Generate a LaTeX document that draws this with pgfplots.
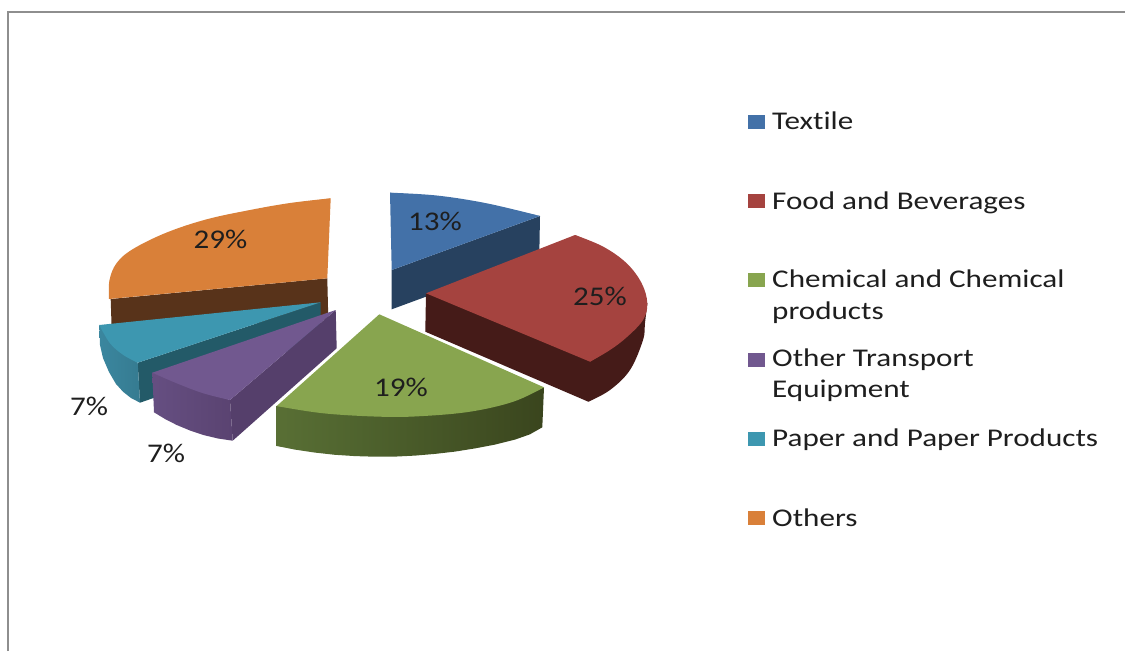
\documentclass[border=0pt]{standalone}
\usepackage{pgfplots}
\pgfplotsset{compat=1.18}
\usepackage{fontspec}
\setmainfont[Ligatures=NoCommon]{Carlito}
\definecolor{txt}{HTML}{1E1E1E}
\definecolor{frame}{HTML}{8E8E8E}
\definecolor{blueT}{HTML}{4371A8}\definecolor{blueS}{HTML}{27415F}
\definecolor{redT}{HTML}{A5433F}\definecolor{redS}{HTML}{451B18}
\definecolor{greenT}{HTML}{88A54F}
\definecolor{purpleT}{HTML}{71588F}\definecolor{purpleS}{HTML}{553F6B}
\definecolor{tealT}{HTML}{3D97B0}\definecolor{tealS}{HTML}{235A68}
\definecolor{orangeT}{HTML}{D98039}\definecolor{orangeS}{HTML}{58331A}
\pgfdeclarehorizontalshading{greenrim}{100bp}{
  rgb(0bp)=(0.41,0.51,0.25);
  rgb(40bp)=(0.31,0.39,0.18);
  rgb(78bp)=(0.22,0.26,0.11);
  rgb(100bp)=(0.23,0.28,0.12)}
\pgfdeclarehorizontalshading{tealrim}{100bp}{
  rgb(0bp)=(0.24,0.55,0.65);
  rgb(100bp)=(0.20,0.46,0.54)}
\pgfdeclarehorizontalshading{purplerim}{100bp}{
  rgb(0bp)=(0.42,0.33,0.54);
  rgb(100bp)=(0.33,0.24,0.41)}
\pgfplotsset{
  flat/.style={draw=none,fill=#1},
  arc/.style={smooth,tension=0.6,draw=none,fill=#1},
  rimflat/.style={draw=none,shading=#1}}
\newcommand{\pct}[3]{\node[text=txt] at (axis cs:#1,#2) {\fontsize{27}{27}\selectfont\scalebox{1.15}[1]{#3}};}
\newcommand{\leg}[2]{\node[text=txt,anchor=base west,inner sep=0pt] at (axis cs:772,#1) {\fontsize{25.5}{25.5}\selectfont\scalebox{1.22}[1]{#2}};}
\begin{document}
\begin{tikzpicture}
\begin{axis}[scale only axis,width=1125pt,height=651pt,xmin=0,xmax=1125,ymin=0,ymax=651,
  y dir=reverse,hide axis,clip=true]
% full page extent
\addplot[draw=none] coordinates {(0,0)(1125,651)};
% page frame
\addplot[draw=frame,line width=2.2pt] coordinates {(8,651)(8,12)(1125,12)};
% Textile
\addplot[flat=blueS] coordinates {(391.7,270)(540,216)(539.3,255)(391.7,309.3)};
\addplot[arc=blueT] coordinates {(390,192.7)(436.7,195.5)(486.7,203.3)(540,216)};
\addplot[flat=blueT] coordinates {(391.7,270)(390,192.7)(436.7,196.5)(486.7,204.3)(540,216)};
% Others
\addplot[flat=orangeS] coordinates {(110.7,299)(327.3,278.3)(328.3,320)(111.7,330)};
\addplot[arc=orangeT] coordinates {(330.7,198.3)(290,203)(250,210)(206.7,219.3)(166.7,232.5)(133,249)(116.7,263)(109.5,280)(109,299)};
\addplot[flat=orangeT] coordinates {(327.3,278.3)(330.7,198.3)(290,204)(250,211)(206.7,220.3)(166.7,233.5)(134,250)(117.7,264)(110.5,280)(109,299)};
% Paper and Paper Products
\addplot[flat=tealS] coordinates {(137.7,362.7)(320.7,302.3)(320.7,340)(140,402.7)};
\addplot[rimflat=tealrim] coordinates {(99.3,325)(137.7,362.7)(140,402.7)(131,398)(123.3,392)(116,384)(109,372)(103,358)(100,345)};
\addplot[arc=tealT] coordinates {(99.3,325)(110,343.3)(123.3,355)(137.7,362.7)};
\addplot[flat=tealT] coordinates {(320.7,302.3)(99.3,325)(110.7,342.7)(123.8,354.3)(137.7,362.7)};
% Other Transport Equipment
\addplot[flat=purpleS] coordinates {(230,400)(335.7,310)(336.7,348.3)(232.7,440.7)};
\addplot[rimflat=purplerim] coordinates {(152.3,372.7)(230,400)(232.7,440.7)(218,438.5)(203.3,435)(190,430.5)(176.7,425)(165,419)(154,412.3)};
\addplot[arc=purpleT] coordinates {(152.3,372.7)(176.7,383.3)(203.3,393.3)(230,400)};
\addplot[flat=purpleT] coordinates {(335.7,310)(152.3,372.7)(176.7,382.5)(203.3,392.5)(230,400)};
% Food and Beverages
\addplot[arc=redS] coordinates {(647.3,303.3)(645,323)(643,340)(630,370)(610,390)(588.3,401.7)};
\addplot[flat=redS] coordinates {(426,293.3)(647.3,303.3)(644,323)(642,340)(629,369.5)(609.5,389.5)(588.3,401.7)(425.3,331.7)};
\addplot[arc=redT] coordinates {(575,235)(603.3,246.7)(626.7,263.3)(641.7,283.3)(647.3,303.3)(643,320)(627,337)(610,350)(590,361.7)};
\addplot[flat=redT] coordinates {(426,293.3)(575,235)(603,247.5)(626,264)(641,284)(646.3,303.3)(642,319.5)(626.5,336.5)(609.5,349.5)(590,361.7)};
% Chemical and Chemical products
\addplot[rimflat=greenrim] coordinates {(276.7,406)(544,387.3)(542.3,427.3)(530,434.3)(515,439.6)(495,444.6)(475,448.4)(455,451.6)(435,453.9)(415,455.6)(395,456.6)(375,456.7)(355,456.1)(335,454.8)(315,452.6)(295,449.6)(276.7,446)};
\addplot[arc=greenT] coordinates {(276.7,406)(323.3,413.3)(380,416.7)(420,416.2)(470,411.7)(513.3,401.7)(544,387.3)};
\addplot[flat=greenT] coordinates {(379.3,314.3)(276.7,406)(323.3,412.3)(380,415.7)(420,415.2)(470,410.7)(513.3,400.7)(544,387.3)};
% Legend swatches
\addplot[draw=none,fill=blueT] coordinates {(747.5,114.5)(764.5,114.5)(764.5,128.5)(747.5,128.5)};
\addplot[draw=none,fill=redT] coordinates {(747.5,194)(764.5,194)(764.5,208)(747.5,208)};
\addplot[draw=none,fill=greenT] coordinates {(747.5,273)(764.5,273)(764.5,287)(747.5,287)};
\addplot[draw=none,fill=purpleT] coordinates {(747.5,352.5)(764.5,352.5)(764.5,366.5)(747.5,366.5)};
\addplot[draw=none,fill=tealT] coordinates {(747.5,431.5)(764.5,431.5)(764.5,445.5)(747.5,445.5)};
\addplot[draw=none,fill=orangeT] coordinates {(747.5,511)(764.5,511)(764.5,525)(747.5,525)};
% Percentage labels
\pct{435}{221}{13\%}
\pct{600}{296}{25\%}
\pct{401}{387}{19\%}
\pct{220.5}{239}{29\%}
\pct{89}{406}{7\%}
\pct{166}{453}{7\%}
% Legend entries
\leg{129}{Textile}
\leg{209}{Food and Beverages}
\leg{287}{Chemical and Chemical}
\leg{319}{products}
\leg{366.5}{Other Transport}
\leg{397.5}{Equipment}
\leg{446}{Paper and Paper Products}
\leg{526}{Others}
\end{axis}
\end{tikzpicture}
\end{document}
